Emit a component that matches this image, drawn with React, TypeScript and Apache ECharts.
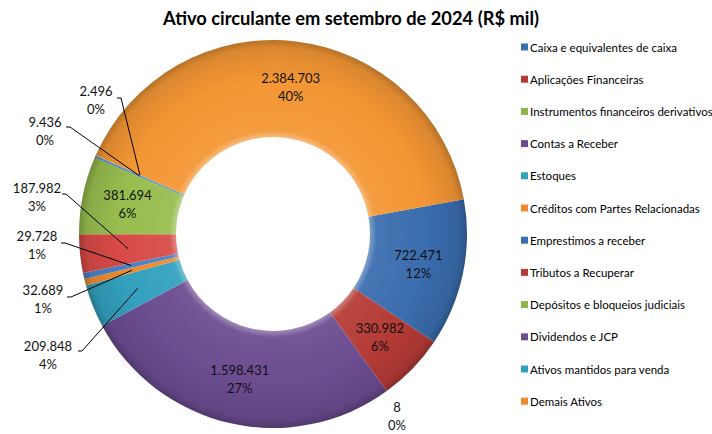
import React, { useEffect, useRef } from 'react';
import * as echarts from 'echarts';

const title = 'Ativo circulante em setembro de 2024 (R$ mil)';

const categories = [
  'Caixa e equivalentes de caixa',
  'Aplicações Financeiras',
  'Instrumentos financeiros derivativos',
  'Contas a Receber',
  'Estoques',
  'Créditos com Partes Relacionadas',
  'Emprestimos a receber',
  'Tributos a Recuperar',
  'Depósitos e bloqueios judiciais',
  'Dividendos e JCP',
  'Ativos mantidos para venda',
  'Demais Ativos',
];

const values = [722471, 330982, 8, 1598431, 209848, 32689, 29728, 187982, 381694, 9436, 2496, 2384703];

// styling (not data)
const colors = [
  '#3a6dae', '#b53b36', '#8fb34a', '#6b4c90', '#33a0be', '#ef8a2c',
  '#4a80c6', '#d84a47', '#98bd4e', '#4f86c4', '#45b2cf', '#f39634',
];
const legendColors = [
  '#3a6dae', '#b53b36', '#8fb34a', '#6b4c90', '#33a0be', '#ef8a2c',
  '#3a6dae', '#b53b36', '#8fb34a', '#6b4c90', '#33a0be', '#ef8a2c',
];

// layout of labels drawn outside the ring: [labelCenterX, labelCenterY, lineEndX, lineEndY] (null = inside label)
const outsideLabelPos: (number[] | null)[] = [
  null,
  null,
  [397, 416],
  null,
  [48, 355, 78, 351],
  [43, 299, 67, 297],
  [37, 245, 61, 243],
  [37, 197, 62, 194],
  null,
  [45, 131, 66, 127],
  [96, 100, 117, 98],
  null,
];

const CX = 273;
const CY = 234;
const R0 = 97;
const R1 = 194;
const START = 10.3;

function fmt(v: number): string {
  return String(v).replace(/\B(?=(\d{3})+(?!\d))/g, '.');
}

function shade(hex: string, amt: number): string {
  const n = parseInt(hex.slice(1), 16);
  let r = (n >> 16) & 255, g = (n >> 8) & 255, b = n & 255;
  const f = (c: number) => {
    const v = amt >= 0 ? c + (255 - c) * amt : c * (1 + amt);
    return Math.max(0, Math.min(255, Math.round(v)));
  };
  r = f(r); g = f(g); b = f(b);
  return '#' + ((1 << 24) + (r << 16) + (g << 8) + b).toString(16).slice(1);
}

export default function App() {
  const ref = useRef<HTMLDivElement>(null);
  useEffect(() => {
    if (!ref.current) return;
    const chart = echarts.init(ref.current, null, { renderer: 'svg' });
    const ringMid = (R0 + R1) / 2;

    const sliceData = categories.map((name, i) => {
      const c = colors[i];
      return {
        name,
        value: values[i],
        itemStyle: {
          color: {
            type: 'radial',
            x: CX,
            y: CY,
            r: R1,
            global: true,
            colorStops: [
              { offset: 0.5, color: shade(c, 0.35) },
              { offset: 0.535, color: shade(c, 0.06) },
              { offset: 0.8, color: c },
              { offset: 0.96, color: shade(c, -0.1) },
              { offset: 1, color: shade(c, -0.25) },
            ],
          },
        },
      };
    });

    const labelData = categories.map((name, i) => {
      const pos = outsideLabelPos[i];
      const item: any = { name, value: values[i] };
      if (pos) {
        item.label = { position: 'outside' };
        item.labelLine = { show: pos.length > 2, lineStyle: { color: '#000', width: 1 } };
      } else {
        item.label = { position: 'inside' };
        item.labelLine = { show: false };
      }
      return item;
    });

    chart.setOption({
      animation: false,
      backgroundColor: '#ffffff',
      graphic: [
        {
          type: 'text',
          x: 351,
          y: 18,
          style: {
            text: title,
            fill: '#000',
            font: 'bold 18.3px Lato',
            textAlign: 'center',
            textVerticalAlign: 'middle',
          },
        },
      ],
      legend: {
        orient: 'vertical',
        left: 516,
        top: 35,
        itemWidth: 7,
        itemHeight: 7,
        itemGap: 18.2,
        icon: 'rect',
        textStyle: { fontFamily: 'Lato', fontSize: 11.5, lineHeight: 14, color: '#000', padding: [0, 0, 0, -3] },
        data: categories.map((name, i) => ({ name, itemStyle: { color: legendColors[i] } })),
      },
      series: [
        {
          type: 'pie',
          center: [CX, CY],
          radius: [R0, R1],
          startAngle: START,
          clockwise: true,
          avoidLabelOverlap: false,
          data: sliceData,
          label: { show: false },
          labelLine: { show: false },
          emphasis: { disabled: true },
          z: 2,
        },
        {
          type: 'pie',
          center: [CX, CY],
          radius: [R0, R1],
          startAngle: START,
          clockwise: true,
          avoidLabelOverlap: false,
          silent: true,
          z: 3,
          itemStyle: { color: 'rgba(0,0,0,0)' },
          data: labelData,
          label: {
            formatter: (p: any) => fmt(p.value) + '\n' + Math.round(p.percent) + '%',
            fontFamily: 'Lato',
            fontSize: 13,
            lineHeight: 18,
            color: '#111',
            align: 'center',
          },
          labelLayout: (params: any) => {
            const i = params.dataIndex;
            const pos = outsideLabelPos[i];
            if (!pos) return {};
            const res: any = { x: pos[0], y: pos[1], align: 'center', verticalAlign: 'middle' };
            if (pos.length > 2) {
              const pts = params.labelLinePoints;
              if (pts && pts.length) {
                const p0 = pts[0];
                const dx = p0[0] - CX;
                const dy = p0[1] - CY;
                const d = Math.hypot(dx, dy) || 1;
                const inner = [CX + (dx / d) * ringMid, CY + (dy / d) * ringMid];
                res.labelLinePoints = [inner, [pos[2] + 4, pos[3]], [pos[2], pos[3]]];
              }
            }
            return res;
          },
          emphasis: { disabled: true },
        },
      ],
    });
    return () => chart.dispose();
  }, []);
  return (
    <div
      ref={ref}
      style={{ position: 'absolute', left: 0, top: 0, width: 712, height: 434, background: '#fff' }}
    />
  );
}
